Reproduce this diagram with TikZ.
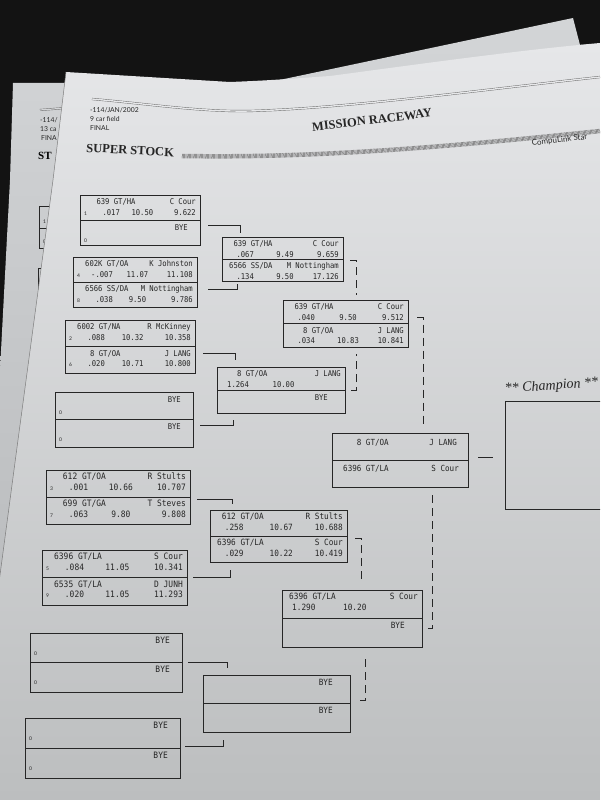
\documentclass[tikz,border=0pt]{standalone}
\usepackage{fontspec}
\setmainfont{Liberation Serif}
\newfontfamily\monofont[FakeStretch=0.9]{DejaVu Sans Mono}
\newfontfamily\headfont{Lato}
\usetikzlibrary{calc,positioning}

\definecolor{table}{HTML}{131313}
\definecolor{backhi}{HTML}{D3D5D7}
\definecolor{backlow}{HTML}{B2B4B6}
\definecolor{paperhi}{HTML}{E6E7E9}
\definecolor{paperlow}{HTML}{BCBEBF}
\definecolor{ink}{HTML}{262626}

\newcommand{\carx}{12}
\newcommand{\rtx}{18}
\newcommand{\byex}{12}
\newcommand{\lanesize}{8}
% one lane of a heat: box, anchor prefix, car, driver, seed, reaction, dial, e.t.
\newcommand{\heatlane}[8]{%
  \node[txt,anchor=base west] at ($(#1.#2west)+(\carx,9.5)$) {#3};
  \node[txt,anchor=base east] at ($(#1.#2east)+(-4,9.5)$) {#4};
  \node[seedtxt,anchor=base west] at ($(#1.#2west)+(4,20)$) {#5};
  \node[txt,anchor=base west] at ($(#1.#2west)+(\rtx,20)$) {#6};
  \node[txt,anchor=base] at ($(#1.#2west)!0.52!(#1.#2east)+(0,20)$) {#7};
  \node[txt,anchor=base east] at ($(#1.#2east)+(-4,20)$) {#8};
}
% an empty lane
\newcommand{\byelane}[3]{%
  \node[txt,anchor=base east] at ($(#1.#2east)+(-\byex,10)$) {BYE};
  \node[seedtxt,anchor=base west] at ($(#1.#2west)+(4,22)$) {#3};
}

\begin{document}
\begin{tikzpicture}[x=1pt, y=-1pt]
\tikzstyle{txt}=[font=\monofont\fontsize{\lanesize}{9}\selectfont, inner sep=0pt, text=ink]
\tikzstyle{seedtxt}=[font=\headfont\fontsize{5}{5}\selectfont, inner sep=0pt, text=ink]
\tikzstyle{headtxt}=[font=\headfont\fontsize{6.8}{7}\selectfont, inner sep=0pt, text=ink]
\tikzstyle{heat}=[draw=ink, line width=0.7pt, anchor=north west, inner sep=0pt, outer sep=0pt]
\tikzstyle{link}=[draw=ink, line width=0.6pt]
\tikzstyle{dashlink}=[link, dash pattern=on 8pt off 5pt]

\clip (0,0) rectangle (600,800);
\fill[table] (0,0) rectangle (600,800);

% sheet underneath
\shade[top color=backhi, bottom color=backlow] (13,83) -- (270,82) -- (573,18) -- (580,45) -- (600,44) -- (600,800) -- (0,800) -- (0,370) -- (10,180) -- cycle;
\draw[ink!70, double=backhi, double distance=1.2pt, line width=0.4pt] (40,110) -- (66,108);
\node[headtxt, anchor=base west] (bdate) at (40,122) {-114/};
\node[headtxt, anchor=base west] (bfield) at (40,131) {13 ca};
\node[headtxt, anchor=base west] (bfinal) at (41,140) {FINA};
\node[font=\bfseries\fontsize{11}{12}\selectfont, inner sep=0pt, anchor=base west] (bclass) at (38,159) {ST};
\draw[link] (60,206) -- (39,206) -- (39,248) -- (60,248) (39,228) -- (60,228);
\node[seedtxt, anchor=base west] at (43,223) {1};
\node[seedtxt, anchor=base west] at (43,243) {0};
\draw[link] (60,268) -- (38,268) -- (38,300);

% top sheet
\shade[top color=paperhi, bottom color=paperlow] (66,72) -- (230,82) .. controls (280,80) and (300,78) .. (330,76) .. controls (420,64) and (520,50) .. (600,43) -- (600,800) -- (-30,800) -- (18,440) -- (53,180) -- cycle;
\draw[ink!60, line width=0.5pt] (66,72) -- (53,180) -- (18,440) -- (-30,800);

% heading
\draw[ink!70, double=paperhi, double distance=1.4pt, line width=0.4pt] (92,99) .. controls (150,104) and (200,112) .. (250,111) .. controls (350,108) and (480,90) .. (600,77);
\node[headtxt, anchor=base west] (date) at (90,112) {-114/JAN/2002};
\node[headtxt, anchor=base west] (field) at (90,121) {9 car field};
\node[headtxt, anchor=base west] (final) at (90,130) {FINAL};
\node[font=\bfseries\fontsize{12.5}{13}\selectfont, inner sep=0pt, rotate=7, text=ink] (track) at (372,120) {MISSION RACEWAY};
\node[font=\bfseries\fontsize{12.5}{13}\selectfont, inner sep=0pt, anchor=base west, rotate=-3, text=ink] (class) at (86,152) {SUPER STOCK};
\draw[ink!70, line width=4.5pt, dash pattern=on 0.5pt off 0.7pt] (182,156) .. controls (300,158) and (420,150) .. (600,131);
\node[font=\headfont\fontsize{8}{9}\selectfont, inner sep=0pt, anchor=base west, rotate=7, text=ink] (soft) at (532,146) {CompuLink Star};

% heats
\node[heat, minimum width=120, minimum height=50] (r1a) at (80,195) {};
\node[heat, minimum width=124, minimum height=50] (r1b) at (73,257) {};
\node[heat, minimum width=130, minimum height=53] (r1c) at (65,320) {};
\node[heat, minimum width=138, minimum height=55] (r1d) at (55,392) {};
\node[heat, minimum width=144, minimum height=54] (r1e) at (46,470) {};
\node[heat, minimum width=145, minimum height=55] (r1f) at (42,550) {};
\node[heat, minimum width=152, minimum height=59] (r1g) at (30,633) {};
\node[heat, minimum width=155, minimum height=60] (r1h) at (25,718) {};

\node[heat, minimum width=121, minimum height=44] (r2a) at (222,237) {};
\node[heat, minimum width=128, minimum height=46] (r2b) at (217,367) {};
\node[heat, minimum width=137, minimum height=52] (r2c) at (210,510) {};
\node[heat, minimum width=147, minimum height=57] (r2d) at (203,675) {};

\node[heat, minimum width=125, minimum height=47] (r3a) at (283,300) {};
\node[heat, minimum width=140, minimum height=57] (r3b) at (282,590) {};

\node[heat, minimum width=136, minimum height=54] (r4) at (332,433) {};
\node[heat, minimum width=112, minimum height=108] (champ) at (505,401) {};

\draw[link] (r1a.west) -- (r1a.east);
\draw[link] (r1b.west) -- (r1b.east);
\draw[link] (r1c.west) -- (r1c.east);
\draw[link] (r1d.west) -- (r1d.east);
\draw[link] (r1e.west) -- (r1e.east);
\draw[link] (r1f.west) -- (r1f.east);
\draw[link] (r1g.west) -- (r1g.east);
\draw[link] (r1h.west) -- (r1h.east);
\draw[link] (r2a.west) -- (r2a.east);
\draw[link] (r2b.west) -- (r2b.east);
\draw[link] (r2c.west) -- (r2c.east);
\draw[link] (r2d.west) -- (r2d.east);
\draw[link] (r3a.west) -- (r3a.east);
\draw[link] (r3b.west) -- (r3b.east);
\draw[link] (r4.west) -- (r4.east);

% first round
\heatlane{r1a}{north }{\hphantom{0}639 GT/HA}{C Cour}{1}{\hphantom{0}.017}{10.50}{9.622}
\byelane{r1a}{}{0}
\heatlane{r1b}{north }{602K GT/OA}{K Johnston}{4}{-.007}{11.07}{11.108}
\heatlane{r1b}{}{6566 SS/DA}{M Nottingham}{8}{\hphantom{0}.038}{9.50}{9.786}
\heatlane{r1c}{north }{6002 GT/NA}{R McKinney}{2}{\hphantom{0}.088}{10.32}{10.358}
\heatlane{r1c}{}{\hphantom{000}8 GT/OA}{J LANG}{6}{\hphantom{0}.020}{10.71}{10.800}
\byelane{r1d}{north }{0}
\byelane{r1d}{}{0}
\renewcommand{\lanesize}{8.8}
\heatlane{r1e}{north }{\hphantom{0}612 GT/OA}{R Stults}{3}{\hphantom{0}.001}{10.66}{10.707}
\heatlane{r1e}{}{\hphantom{0}699 GT/GA}{T Steves}{7}{\hphantom{0}.063}{9.80}{9.808}
\heatlane{r1f}{north }{6396 GT/LA}{S Cour}{5}{\hphantom{0}.084}{11.05}{10.341}
\heatlane{r1f}{}{6535 GT/LA}{D JUNH}{9}{\hphantom{0}.020}{11.05}{11.293}
\byelane{r1g}{north }{0}
\byelane{r1g}{}{0}
\byelane{r1h}{north }{0}
\byelane{r1h}{}{0}

% later rounds
\renewcommand{\lanesize}{8}
\renewcommand{\carx}{7}
\renewcommand{\rtx}{10}
\renewcommand{\byex}{17}
\heatlane{r2a}{north }{\hphantom{0}639 GT/HA}{C Cour}{}{\hphantom{0}.067}{9.49}{9.659}
\heatlane{r2a}{}{6566 SS/DA}{M Nottingham}{}{\hphantom{0}.134}{9.50}{17.126}
\heatlane{r2b}{north }{\hphantom{000}8 GT/OA}{J LANG}{}{1.264}{10.00}{}
\byelane{r2b}{}{}
\heatlane{r3a}{north }{\hphantom{0}639 GT/HA}{C Cour}{}{\hphantom{0}.040}{9.50}{9.512}
\heatlane{r3a}{}{\hphantom{000}8 GT/OA}{J LANG}{}{\hphantom{0}.034}{10.83}{10.841}
\renewcommand{\lanesize}{8.6}
\heatlane{r2c}{north }{\hphantom{0}612 GT/OA}{R Stults}{}{\hphantom{0}.258}{10.67}{10.688}
\heatlane{r2c}{}{6396 GT/LA}{S Cour}{}{\hphantom{0}.029}{10.22}{10.419}
\byelane{r2d}{north }{}
\byelane{r2d}{}{}
\heatlane{r3b}{north }{6396 GT/LA}{S Cour}{}{1.290}{10.20}{}
\byelane{r3b}{}{}

% final
\renewcommand{\lanesize}{8.4}
\node[txt, anchor=base west] at ($(r4.north west)+(11,12)$) {\hphantom{000}8 GT/OA};
\node[txt, anchor=base east] at ($(r4.north east)+(-11,12)$) {J LANG};
\node[txt, anchor=base west] at ($(r4.west)+(11,11)$) {6396 GT/LA};
\node[txt, anchor=base east] at ($(r4.east)+(-9,11)$) {S Cour};
\node[font=\itshape\fontsize{14}{15}\selectfont, inner sep=0pt, anchor=base west, rotate=4, text=ink] (champlabel) at (505,393) {** Champion **};

% brackets
\draw[link] ($(r1a.east)+(8,5)$) -| ($(r2a.north west)+(18,-4)$);
\draw[link] ($(r1b.east)+(11,7)$) -| ($(r2a.south west)+(15,3)$);
\draw[link] ($(r1c.east)+(8,7)$) -| ($(r2b.north west)+(18,-7)$);
\draw[link] ($(r1d.east)+(7,6)$) -| ($(r2b.south west)+(16,7)$);
\draw[link] ($(r1e.east)+(7,2)$) -| ($(r2c.north west)+(22,-6)$);
\draw[link] ($(r1f.east)+(6,0)$) -| ($(r2c.south west)+(20,8)$);
\draw[link] ($(r1g.east)+(6,0)$) -| ($(r2d.north west)+(24,-7)$);
\draw[link] ($(r1h.east)+(5,-2)$) -| ($(r2d.south west)+(20,8)$);

\draw[dashlink] ($(r2a.east)+(7,1)$) -| ($(r3a.north west)+(73,-5)$);
\draw[dashlink] ($(r2b.east)+(6,0)$) -| ($(r3a.south west)+(73,7)$);
\draw[dashlink] ($(r2c.east)+(8,2)$) -| ($(r3b.north west)+(79,-8)$);
\draw[dashlink] ($(r2d.east)+(10,-3)$) -| ($(r3b.south west)+(83,8)$);

\draw[dashlink] ($(r3a.east)+(9,-6)$) -| ($(r4.north west)+(91,-5)$);
\draw[dashlink] ($(r3b.east)+(6,10)$) -| ($(r4.south west)+(100,8)$);

\draw[link] ($(r4.east)+(10,-3)$) -- ($(champ.west)+(-12,2)$);

\end{tikzpicture}
\end{document}
